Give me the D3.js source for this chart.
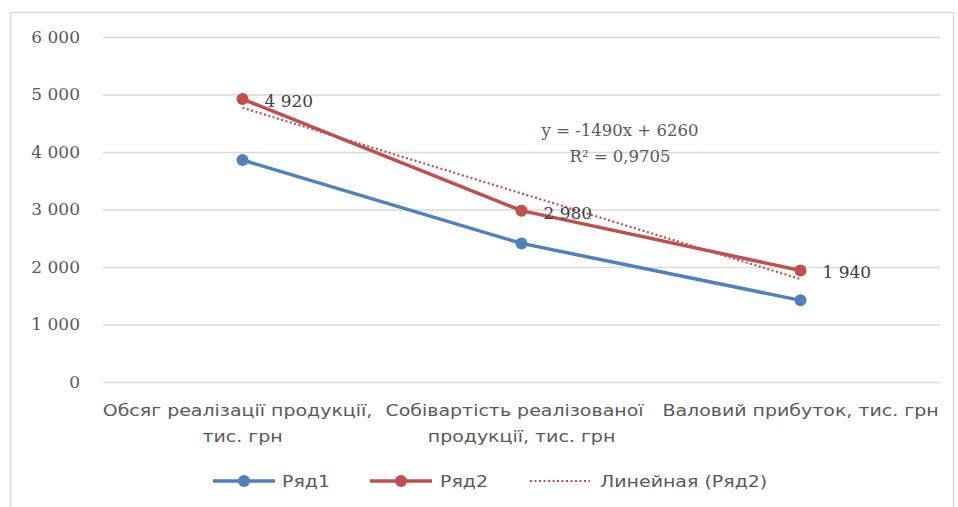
<!DOCTYPE html>
<html><head><meta charset="utf-8">
<script src="https://cdn.jsdelivr.net/npm/d3@7"></script>
<style>html,body{margin:0;padding:0;background:#fff;}</style>
</head><body>
<script>
const categories = [["Обсяг реалізації продукції,", "тис. грн"], ["Собівартість реалізованої", "продукції, тис. грн"], ["Валовий прибуток, тис. грн"]];
const series1 = [3860, 2410, 1420];
const series2 = [4920, 2980, 1940];
const seriesNames = ["Ряд1", "Ряд2", "Линейная (Ряд2)"];
const yTicks = [0, 1000, 2000, 3000, 4000, 5000, 6000];
const trendSlope = -1490, trendIntercept = 6260;
const trendLabel = ["y = -1490x + 6260", "R² = 0,9705"];

const W = 958, H = 507;
const svg = d3.select("body").append("svg").attr("width", W).attr("height", H);
svg.append("rect").attr("x", 10.5).attr("y", 12.5).attr("width", 943).attr("height", 500)
  .attr("fill", "#fff").attr("stroke", "#D9D9D9").attr("stroke-width", 1.5);

const x = d3.scaleBand().domain(d3.range(categories.length)).range([103, 940]);
const cx = i => x(i) + x.bandwidth() / 2;
const y = d3.scaleLinear().domain([0, 6000]).range([382, 37]);
const numFont = "DejaVu Serif";
const txtFont = "DejaVu Sans";
const txtCol = "#595959";
const fmt = v => d3.format(",")(v).replace(/,/g, " ");
const SX = 1.15; // horizontal stretch of the label text
const labelShift = [[-5, 0], [-7, 0], [0]];

const yAxis = d3.axisLeft(y).tickValues(yTicks).tickSize(-(940 - 103)).tickFormat(fmt).tickPadding(23);
const gy = svg.append("g").attr("transform", "translate(103,0)").call(yAxis);
gy.select(".domain").remove();
gy.selectAll(".tick line").attr("stroke", "#D9D9D9").attr("stroke-width", 1.3);
gy.selectAll(".tick text").attr("font-family", numFont).attr("font-size", 17).attr("fill", txtCol);

function stretchedText(g, px, py, anchor, t, size) {
  return g.append("text").attr("transform", `translate(${px},${py}) scale(${SX},1)`)
    .attr("text-anchor", anchor).attr("font-family", txtFont).attr("font-size", size)
    .attr("fill", txtCol).text(t);
}

// category labels
const gx = svg.append("g");
categories.forEach((lines, i) => {
  lines.forEach((t, j) => {
    stretchedText(gx, cx(i) + labelShift[i][j], 416 + j * 26, "middle", t, 16.5);
  });
});

const c1 = "#4F81BD", c2 = "#C0504D";
const line = d3.line().x((d, i) => cx(i)).y(d => y(d));
svg.append("path").datum(series1).attr("d", line).attr("fill", "none").attr("stroke", c1).attr("stroke-width", 3.5);
svg.append("path").datum(series2).attr("d", line).attr("fill", "none").attr("stroke", c2).attr("stroke-width", 3.5);
svg.selectAll(".m1").data(series1).enter().append("circle").attr("cx", (d, i) => cx(i)).attr("cy", d => y(d)).attr("r", 6).attr("fill", c1);
svg.selectAll(".m2").data(series2).enter().append("circle").attr("cx", (d, i) => cx(i)).attr("cy", d => y(d)).attr("r", 6).attr("fill", c2);

// trendline
const tIdx = [1, 2, 3];
const trend = tIdx.map(k => trendSlope * k + trendIntercept);
svg.append("path").datum(trend).attr("d", line).attr("fill", "none").attr("stroke", c2)
  .attr("stroke-width", 2.2).attr("stroke-dasharray", "2,2.5");

// data labels
series2.forEach((v, i) => {
  svg.append("text").attr("x", cx(i) + 22).attr("y", y(v) + 8).attr("font-family", numFont)
    .attr("font-size", 17).attr("fill", "#404040").text(fmt(v));
});

// trend equation
trendLabel.forEach((t, j) => {
  svg.append("text").attr("x", 620).attr("y", 136 + j * 26).attr("text-anchor", "middle")
    .attr("font-family", numFont).attr("font-size", 16.5).attr("fill", txtCol).text(t);
});

// legend
const lg = svg.append("g");
const items = [{c: c1, dash: null, x0: 213, tx: 282}, {c: c2, dash: null, x0: 370, tx: 440}, {c: c2, dash: "2,2.5", x0: 530, tx: 600}];
items.forEach((it, i) => {
  const ly = 481;
  if (it.dash) {
    lg.append("line").attr("x1", it.x0).attr("x2", it.x0 + 60).attr("y1", ly).attr("y2", ly)
      .attr("stroke", it.c).attr("stroke-width", 2.2).attr("stroke-dasharray", it.dash);
  } else {
    lg.append("line").attr("x1", it.x0).attr("x2", it.x0 + 62).attr("y1", ly).attr("y2", ly)
      .attr("stroke", it.c).attr("stroke-width", 3.5);
    lg.append("circle").attr("cx", it.x0 + 31).attr("cy", ly).attr("r", 6).attr("fill", it.c);
  }
  stretchedText(lg, it.tx, ly + 6, "start", seriesNames[i], 16.5);
});
</script>
</body></html>
